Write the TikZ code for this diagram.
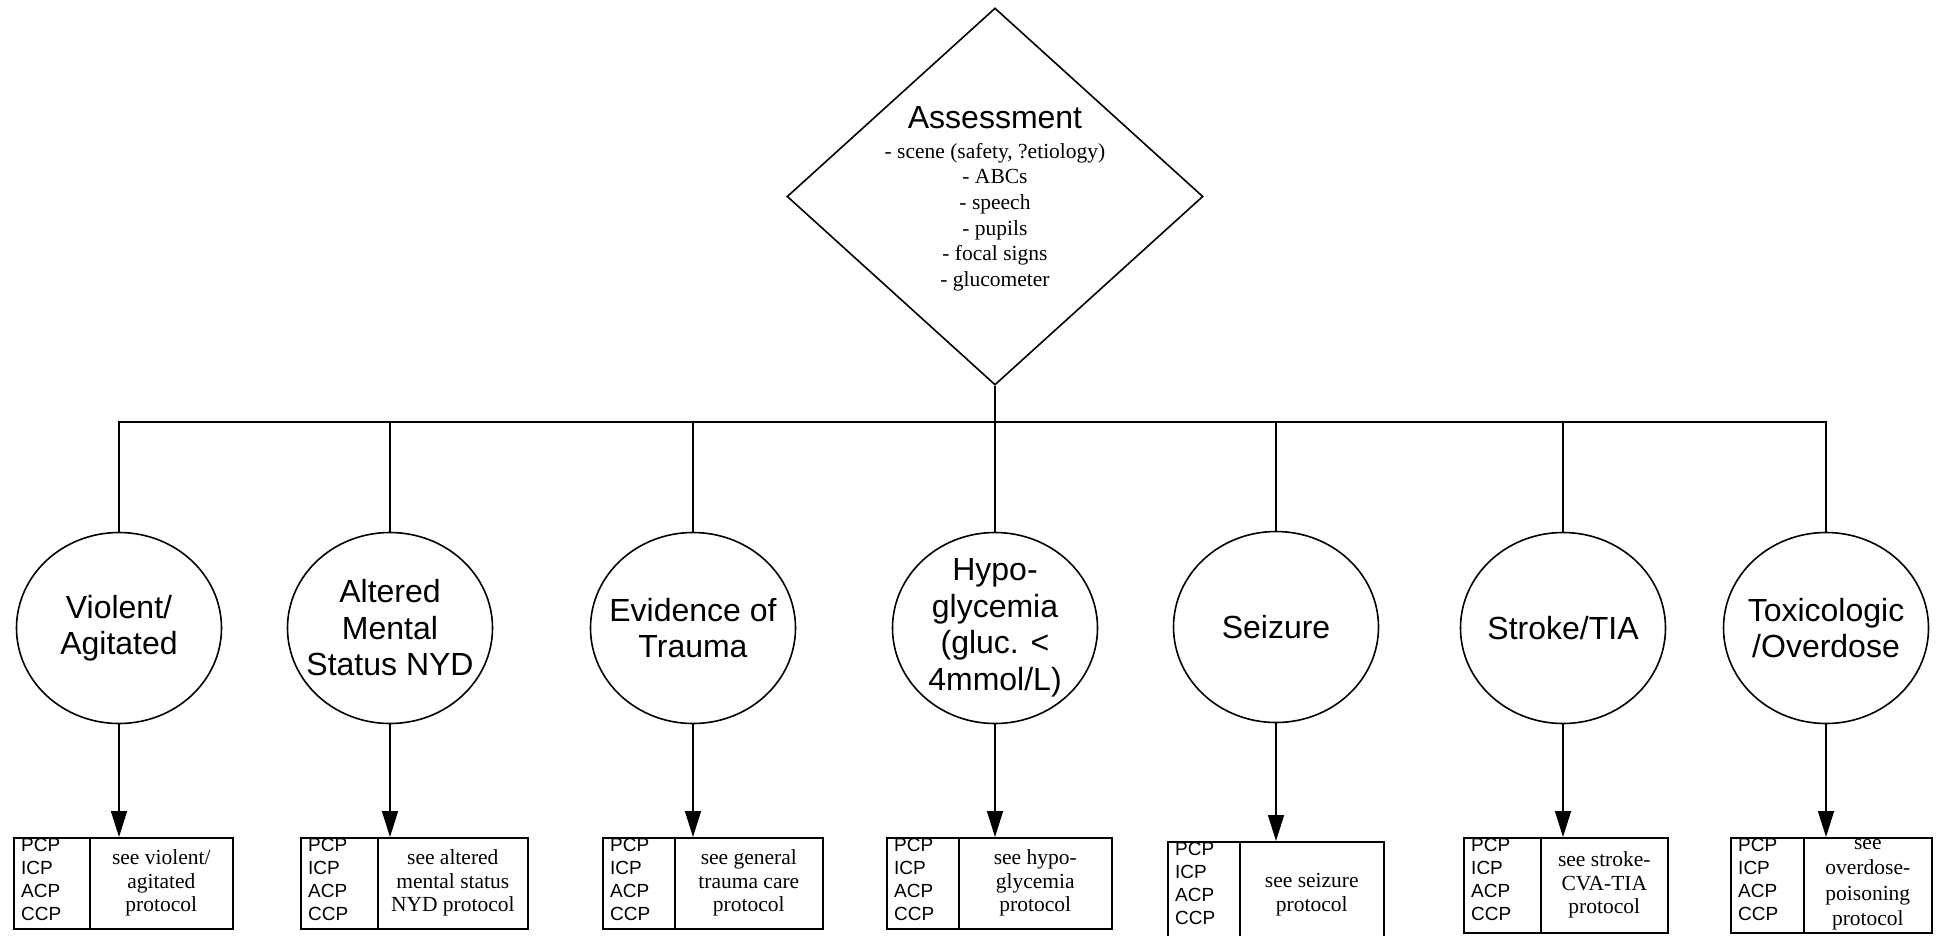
\documentclass[tikz,border=0pt]{standalone}
\usepackage{fontspec}
\setmainfont{Liberation Serif}
\newfontfamily\arialfont{Liberation Sans}
\usetikzlibrary{shapes.geometric,arrows.meta}

% multi-line cell text
\newcommand{\cellstack}[2]{\begin{tabular}{@{}#1@{}}#2\end{tabular}}
\newcommand{\levels}{\cellstack{l}{PCP\\ICP\\ACP\\CCP}}

\tikzset{
  ln/.style={line width=1.7pt},
  arr/.style={line width=1.7pt, -{Triangle[width=16pt,length=26pt]}},
  cond/.style={ellipse, draw, line width=1.6pt, minimum width=205pt, minimum height=191pt,
    inner sep=-40pt, align=center, font=\arialfont\fontsize{32}{36.5}\selectfont},
  cell/.style={draw, line width=1.6pt, inner sep=0pt, anchor=north west},
  lvltext/.style={anchor=north west, inner sep=0pt, xshift=8pt, yshift=2pt,
    font=\arialfont\fontsize{19}{23}\selectfont},
  reftext/.style={inner sep=0pt, font=\fontsize{21.5}{23.5}\selectfont},
}

\begin{document}
\begin{tikzpicture}[x=1pt,y=-1pt]
\useasboundingbox (0,0) rectangle (1937,935);
\clip (0,0) rectangle (1937,935);

% decision diamond
\node[diamond, draw, line width=1.6pt, minimum width=416pt, minimum height=377pt, inner sep=0pt] (dia) at (995,196.5) {};
\node[anchor=base, inner sep=0pt, font=\arialfont\fontsize{32}{36}\selectfont] (asstitle) at (995,128) {Assessment};
\node[anchor=north, inner sep=0pt, align=center, font=\fontsize{21.5}{25.6}\selectfont] (asslist) at (995,143)
  {- scene (safety, ?etiology)\\- ABCs\\- speech\\- pupils\\- focal signs\\- glucometer};

% presenting conditions
\node[cond] (c1) at (119,628) {Violent/\\Agitated};
\node[cond] (c2) at (390,628) {Altered\\Mental\\Status NYD};
\node[cond] (c3) at (693,628) {Evidence of\\Trauma};
\node[cond] (c4) at (995,628) {Hypo-\\glycemia\\(gluc. <\\4mmol/L)};
\node[cond] (c5) at (1276,627) {Seizure};
\node[cond] (c6) at (1563,628) {Stroke/TIA};
\node[cond] (c7) at (1826,628) {Toxicologic\\/Overdose};

% branching bus
\coordinate (bus) at (0,422);
\draw[ln] (dia.south) -- (dia.south |- bus);
\draw[ln] (c1.north) -- (c1.north |- bus) -- (c7.north |- bus) -- (c7.north);
\foreach \c in {c2,c3,c4,c5,c6}
  \draw[ln] (\c.north) -- (\c.north |- bus);

% protocol boxes: level column + protocol column
\node[cell, minimum width=76pt,  minimum height=91pt] (b1l) at (13,837) {};
\node[cell, minimum width=143pt, minimum height=91pt] (b1r) at (89,837) {};
\node[cell, minimum width=77pt,  minimum height=91pt] (b2l) at (300,837) {};
\node[cell, minimum width=150pt, minimum height=91pt] (b2r) at (377,837) {};
\node[cell, minimum width=72pt,  minimum height=91pt] (b3l) at (602,837) {};
\node[cell, minimum width=148pt, minimum height=91pt] (b3r) at (674,837) {};
\node[cell, minimum width=72pt,  minimum height=91pt] (b4l) at (886,837) {};
\node[cell, minimum width=153pt, minimum height=91pt] (b4r) at (958,837) {};
\node[cell, minimum width=72pt,  minimum height=104pt] (b5l) at (1167,841) {};
\node[cell, minimum width=144pt, minimum height=104pt] (b5r) at (1239,841) {};
\node[cell, minimum width=77pt,  minimum height=95pt] (b6l) at (1463,837) {};
\node[cell, minimum width=127pt, minimum height=95pt] (b6r) at (1540,837) {};
\node[cell, minimum width=73pt,  minimum height=95pt] (b7l) at (1730,837) {};
\node[cell, minimum width=128pt, minimum height=95pt] (b7r) at (1803,837) {};

\foreach \b in {b1,b2,b3,b4,b5,b6,b7}
  \node[lvltext] (\b t) at (\b l.north west) {\levels};

\node[reftext] (p1) at (b1r.center) {\cellstack{c}{see violent/\\agitated\\protocol}};
\node[reftext] (p2) at (b2r.center) {\cellstack{c}{see altered\\mental status\\NYD protocol}};
\node[reftext] (p3) at (b3r.center) {\cellstack{c}{see general\\trauma care\\protocol}};
\node[reftext] (p4) at (b4r.center) {\cellstack{c}{see hypo-\\glycemia\\protocol}};
\node[reftext] (p5) at ([yshift=-1pt]b5r.center) {\cellstack{c}{see seizure\\protocol}};
\node[reftext] (p6) at (b6r.center) {\cellstack{c}{see stroke-\\CVA-TIA\\protocol}};
\node[reftext, font=\fontsize{21.5}{25.5}\selectfont] (p7) at ([yshift=3pt]b7r.center) {\cellstack{c}{see\\overdose-\\poisoning\\protocol}};

% condition to protocol arrows
\draw[arr] (c1.south) -- (c1.south |- b1r.north);
\draw[arr] (c2.south) -- (c2.south |- b2r.north);
\draw[arr] (c3.south) -- (c3.south |- b3r.north);
\draw[arr] (c4.south) -- (c4.south |- b4r.north);
\draw[arr] (c5.south) -- (c5.south |- b5r.north);
\draw[arr] (c6.south) -- (c6.south |- b6r.north);
\draw[arr] (c7.south) -- (c7.south |- b7r.north);
\end{tikzpicture}
\end{document}
